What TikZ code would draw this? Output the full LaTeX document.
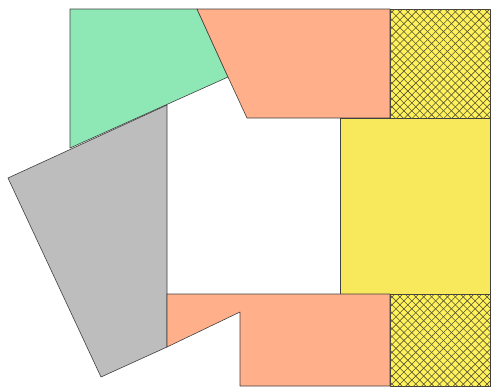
\documentclass[tikz,border=0pt]{standalone}
\usetikzlibrary{patterns.meta}
\definecolor{mygreen}{HTML}{8EE8B6}
\definecolor{mysalmon}{HTML}{FFB08A}
\definecolor{mygray}{HTML}{BDBDBD}
\definecolor{myyellow}{HTML}{F8E85C}
\definecolor{hatchbg}{HTML}{FFF25A}
\definecolor{hatchln}{HTML}{5A5530}
\tikzset{
  piece/.style={draw=black!75, line width=0.6pt, line join=round},
  hatchbox/.style={piece, preaction={fill=hatchbg},
    postaction={pattern={Lines[angle=45,distance=5.6pt,line width=0.6pt]}, pattern color=hatchln},
    postaction={pattern={Lines[angle=-45,distance=5.6pt,line width=0.6pt]}, pattern color=hatchln}}
}
\begin{document}
\begin{tikzpicture}[x=1pt,y=-1pt]
\useasboundingbox (0,0) rectangle (491,388);
% green
\path[piece, fill=mygreen] (70,9) -- (197,9) -- (228,77) -- (70,148) -- cycle;
% top salmon
\path[piece, fill=mysalmon] (197,9) -- (390,9) -- (390,118) -- (247,118) -- (228,77) -- cycle;
% gray
\path[piece, fill=mygray] (8,178) -- (167,105) -- (167,347) -- (101,377) -- cycle;
% yellow
\path[piece, fill=myyellow] (340,118) rectangle (490,294);
% bottom salmon
\path[piece, fill=mysalmon] (167,294) -- (390,294) -- (390,386) -- (240,386) -- (240,312) -- (167,347) -- cycle;
% hatched boxes
\path[hatchbox] (390,9) rectangle (490,118);
\path[hatchbox] (390,294) rectangle (490,386);
\end{tikzpicture}
\end{document}
